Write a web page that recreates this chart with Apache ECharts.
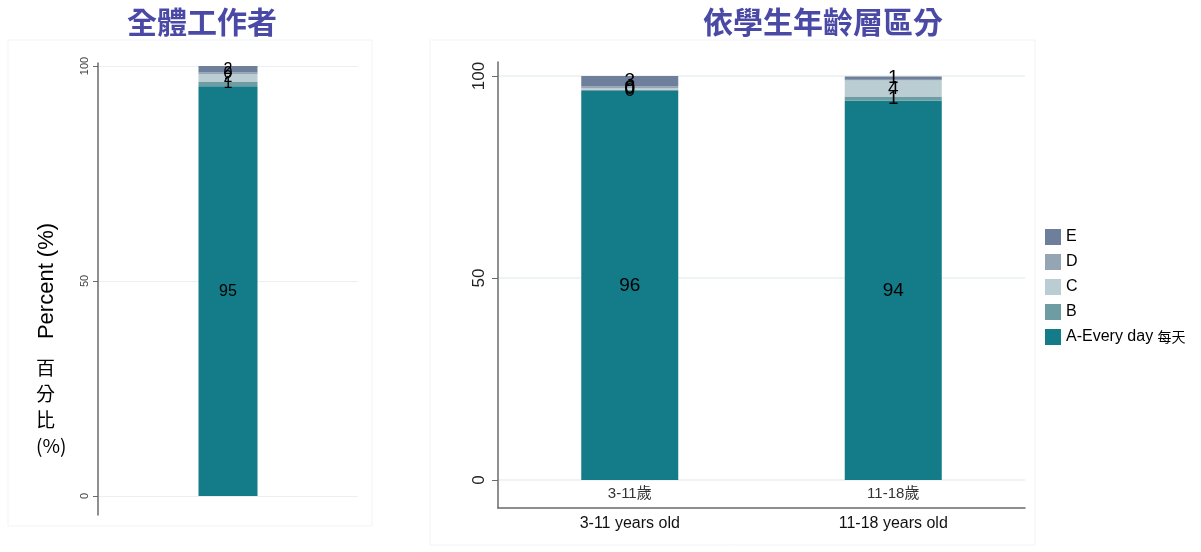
<!DOCTYPE html>
<html>
<head>
<meta charset="utf-8">
<script src="https://cdn.jsdelivr.net/npm/echarts@6/dist/echarts.min.js"></script>
<style>
html,body{margin:0;padding:0;background:#fff;}
#chart{width:1201px;height:552px;}
</style>
</head>
<body>
<div id="chart"></div>
<script>
// ---- data ----
const allCategory = ['全體工作者'];
const ageCategories = ['3-11歲', '11-18歲'];
const ageCategoriesEn = ['3-11 years old', '11-18 years old'];
const seriesNames = ['A-Every day 每天', 'B', 'C', 'D', 'E'];
const allA = [95.3];
const allB = [1.0];
const allC = [1.8];
const allD = [0.4];
const allE = [1.5];
const ageA = [96.3, 93.9];
const ageB = [0.3, 1.0];
const ageC = [0.4, 4.0];
const ageD = [0.4, 0.2];
const ageE = [2.6, 0.8];
const yTicks = [0, 50, 100];
const titleLeft = '全體工作者';
const titleRight = '依學生年齡層區分';

// ---- styles ----
const colors = ['#137c88', '#6d9ca3', '#b9cdd2', '#95a5b4', '#6d7f9a'];
const latin = '"Liberation Sans", Arial, "Noto Sans CJK TC", sans-serif';
const cjk = '"Noto Sans CJK TC", "Liberation Sans", sans-serif';
const axisColor = '#6a6a6a';
const gridColor = '#e9eff2';

const allData = [allA, allB, allC, allD, allE];
const ageData = [ageA, ageB, ageC, ageD, ageE];
const fmt = p => (p.value < 0.25 ? '' : String(Math.round(p.value)));

const series = [];
seriesNames.forEach((name, i) => {
  series.push({
    name: name, type: 'bar', stack: 'all', xAxisIndex: 0, yAxisIndex: 0,
    data: allData[i], barWidth: 59, itemStyle: {color: colors[i]},
    label: {show: true, position: 'inside', color: '#000', fontSize: 16, fontFamily: latin, formatter: fmt}
  });
});
seriesNames.forEach((name, i) => {
  series.push({
    name: name, type: 'bar', stack: 'age', xAxisIndex: 2, yAxisIndex: 2,
    data: ageData[i], barWidth: 97, itemStyle: {color: colors[i]},
    label: {show: true, position: 'inside', color: '#000', fontSize: 19, fontFamily: latin, formatter: fmt}
  });
});

const hiddenX = (gi, data) => ({
  type: 'category', gridIndex: gi, data: data,
  axisLine: {show: false}, axisTick: {show: false}, axisLabel: {show: false}, splitLine: {show: false}
});
const frameY = gi => ({
  type: 'value', gridIndex: gi, min: 0, max: 1,
  axisLine: {show: true, lineStyle: {color: axisColor, width: 1.5}},
  axisTick: {show: false}, axisLabel: {show: false}, splitLine: {show: false}
});

const option = {
  backgroundColor: '#fff',
  animation: false,
  title: [
    {text: titleLeft, left: 197, top: 2, textAlign: 'center',
      textStyle: {fontFamily: cjk, fontSize: 30, fontWeight: 'bold', color: '#4a4aa6'}},
    {text: titleRight, left: 818, top: 2, textAlign: 'center',
      textStyle: {fontFamily: cjk, fontSize: 30, fontWeight: 'bold', color: '#4a4aa6'}}
  ],
  legend: {
    orient: 'vertical', left: 1040, top: 224,
    data: seriesNames.slice().reverse(),
    icon: 'rect', itemWidth: 16, itemHeight: 16, itemGap: 9,
    textStyle: {fontFamily: latin, fontSize: 16, color: '#000',
      rich: {zh: {fontFamily: cjk, fontSize: 14, color: '#000'}}},
    formatter: n => n.indexOf('每天') >= 0 ? n.replace(' 每天', ' {zh|每天}') : n
  },
  grid: [
    {left: 98, top: 66, width: 260, height: 430},
    {left: 98, top: 63, width: 260, height: 452},
    {left: 498, top: 76, width: 527, height: 404},
    {left: 498, top: 62, width: 527, height: 446}
  ],
  xAxis: [
    hiddenX(0, allCategory),
    hiddenX(1, allCategory),
    {type: 'category', gridIndex: 2, data: ageCategories,
      axisLine: {show: false}, axisTick: {show: false}, splitLine: {show: false},
      axisLabel: {margin: 6, fontSize: 15, color: '#333', fontFamily: latin}},
    {type: 'category', gridIndex: 3, data: ageCategoriesEn,
      axisLine: {show: true, lineStyle: {color: axisColor, width: 1.5}},
      axisTick: {show: false}, splitLine: {show: false},
      axisLabel: {margin: 8, fontSize: 16, color: '#111', fontFamily: latin}}
  ],
  yAxis: [
    {type: 'value', gridIndex: 0, min: yTicks[0], max: yTicks[2], interval: yTicks[1] - yTicks[0],
      axisLine: {show: false},
      axisTick: {show: true, length: 5, lineStyle: {color: axisColor}},
      axisLabel: {rotate: 90, fontSize: 11, color: '#444', margin: 8, fontFamily: latin},
      splitLine: {show: true, lineStyle: {color: gridColor, width: 1}},
      name: 'Percent (%)', nameLocation: 'middle', nameGap: 40, nameRotate: 90,
      nameTextStyle: {fontSize: 22, color: '#000', fontFamily: latin}},
    frameY(1),
    {type: 'value', gridIndex: 2, min: yTicks[0], max: yTicks[2], interval: yTicks[1] - yTicks[0],
      axisLine: {show: false},
      axisTick: {show: true, length: 6, lineStyle: {color: axisColor}},
      axisLabel: {rotate: 90, fontSize: 17, color: '#222', margin: 10, fontFamily: latin},
      splitLine: {show: true, lineStyle: {color: gridColor, width: 1.5}}},
    frameY(3)
  ],
  graphic: [
    {type: 'rect', shape: {x: 8, y: 40, width: 364, height: 486}, silent: true, z: -1,
      style: {fill: 'none', stroke: '#f1f3f5', lineWidth: 1}},
    {type: 'rect', shape: {x: 430, y: 40, width: 605, height: 505}, silent: true, z: -1,
      style: {fill: 'none', stroke: '#f1f3f5', lineWidth: 1}},
    {type: 'text', left: 36, top: 355, silent: true,
      style: {text: '百\n分\n比\n(%)', align: 'center', fontSize: 19, lineHeight: 26,
        fill: '#000', fontFamily: cjk, x: 15}}
  ],
  series: series
};

const chart = echarts.init(document.getElementById('chart'), null, {renderer: 'canvas'});
chart.setOption(option);
</script>
</body>
</html>
